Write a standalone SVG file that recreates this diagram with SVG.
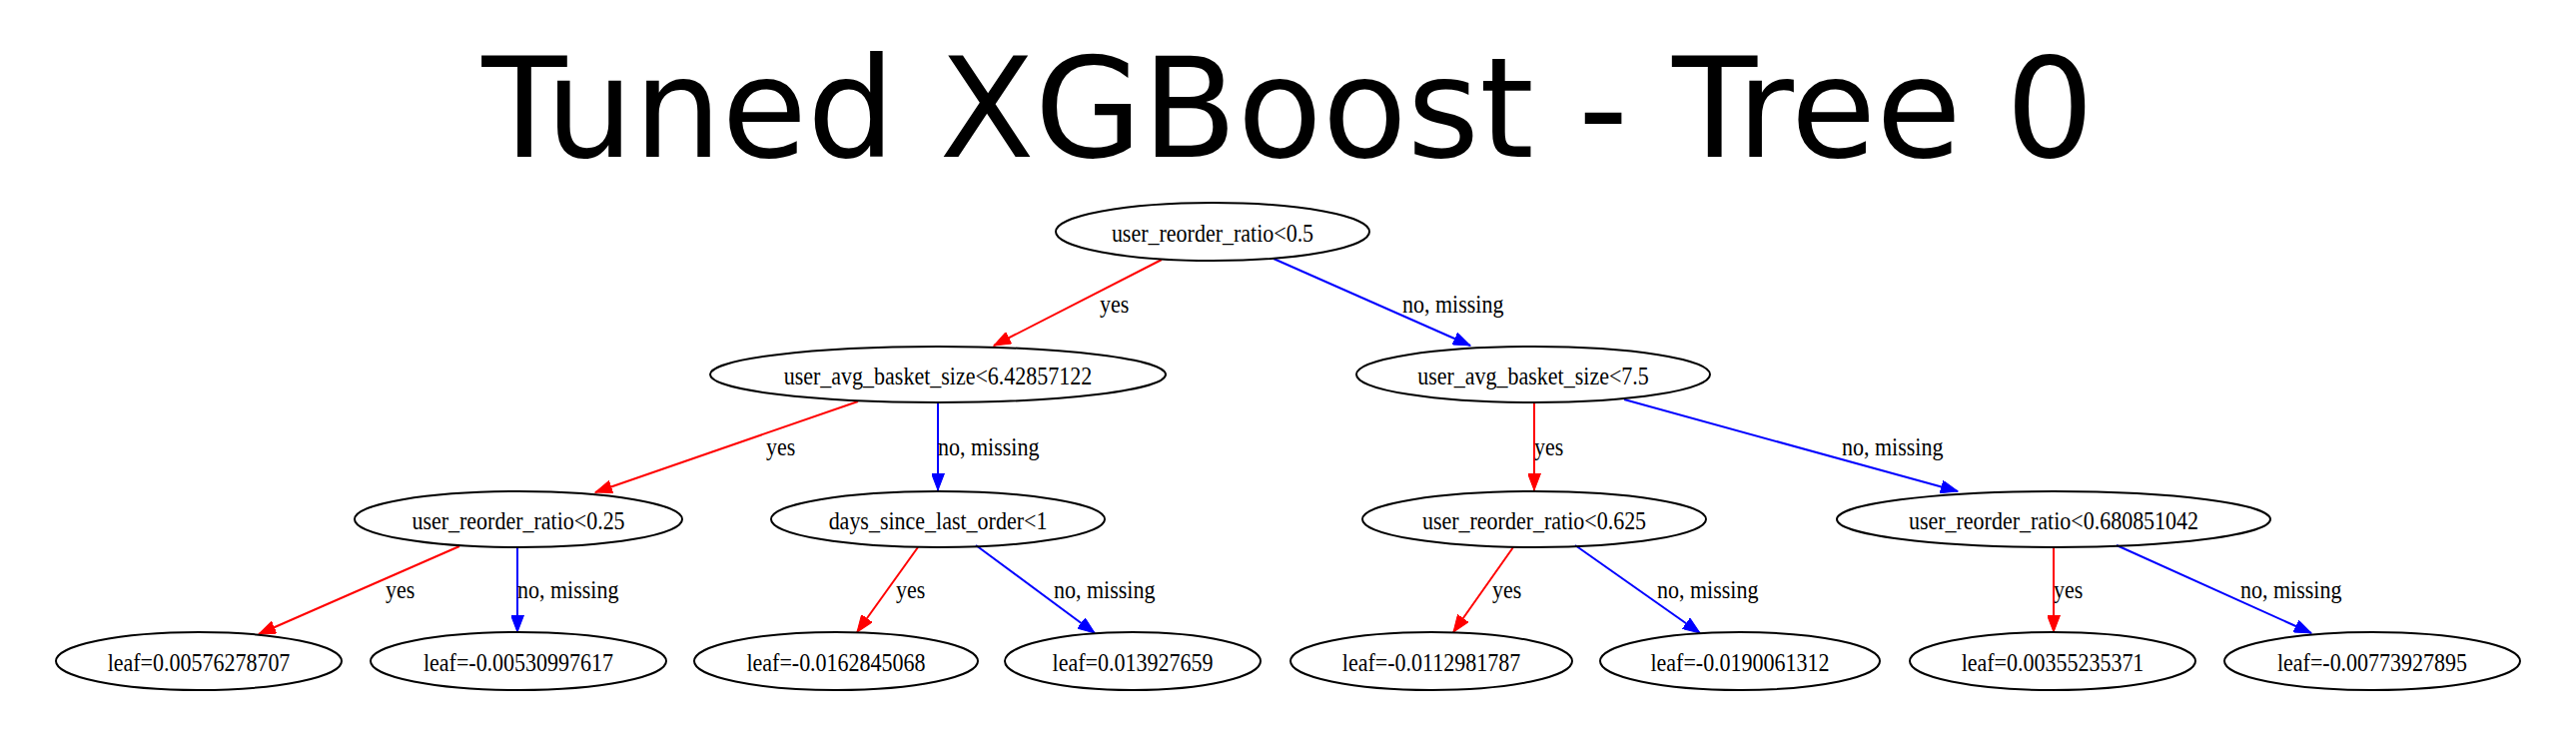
<svg xmlns="http://www.w3.org/2000/svg" width="2579" height="749" viewBox="0 0 2579 749">
<style>
.bg{fill:#ffffff}
.title{font-family:"DejaVu Sans",sans-serif;font-size:139px;fill:#000}
.node ellipse{fill:none;stroke:#000;stroke-width:2}
.node text{font-family:"Liberation Serif","Times New Roman",serif;font-size:24.5px;fill:#000;text-anchor:middle}
.lbl{font-family:"Liberation Serif","Times New Roman",serif;font-size:24.5px;fill:#000}
.yes{stroke:#ff0000;stroke-width:2;fill:none;marker-end:url(#ar)}
.no{stroke:#0000ff;stroke-width:2;fill:none;marker-end:url(#ab)}
</style>
<defs>
<marker id="ar" markerUnits="userSpaceOnUse" markerWidth="18" markerHeight="13" refX="17" refY="6.5" orient="auto"><path d="M0,0 L17,6.5 L0,13 z" fill="#ff0000" stroke="#ff0000" stroke-width="1"/></marker>
<marker id="ab" markerUnits="userSpaceOnUse" markerWidth="18" markerHeight="13" refX="17" refY="6.5" orient="auto"><path d="M0,0 L17,6.5 L0,13 z" fill="#0000ff" stroke="#0000ff" stroke-width="1"/></marker>
</defs>
<rect class="bg" x="0" y="0" width="2579" height="749"/>
<text class="title" x="1289.5" y="157" text-anchor="middle">Tuned XGBoost - Tree 0</text>

<g id="edges">
<line class="yes" x1="1163" y1="260" x2="995" y2="346"/>
<line class="no" x1="1275" y1="259" x2="1472" y2="346"/>
<line class="yes" x1="859" y1="402" x2="596" y2="493"/>
<line class="no" x1="939" y1="403" x2="939" y2="491"/>
<line class="yes" x1="1536" y1="403" x2="1536" y2="491"/>
<line class="no" x1="1626" y1="400" x2="1960" y2="492"/>
<line class="yes" x1="460" y1="547" x2="259" y2="635"/>
<line class="no" x1="518" y1="548" x2="518" y2="633"/>
<line class="yes" x1="919" y1="548" x2="858" y2="633"/>
<line class="no" x1="977" y1="546" x2="1096" y2="634"/>
<line class="yes" x1="1515" y1="548" x2="1455" y2="633"/>
<line class="no" x1="1577" y1="546" x2="1702" y2="634"/>
<line class="yes" x1="2056" y1="548" x2="2056" y2="633"/>
<line class="no" x1="2119" y1="546" x2="2314" y2="634"/>
<text class="lbl" transform="translate(1101,313) scale(0.898,1)">yes</text>
<text class="lbl" transform="translate(1404,313) scale(0.898,1)">no, missing</text>
<text class="lbl" transform="translate(767,456) scale(0.898,1)">yes</text>
<text class="lbl" transform="translate(939,456) scale(0.898,1)">no, missing</text>
<text class="lbl" transform="translate(1536,456) scale(0.898,1)">yes</text>
<text class="lbl" transform="translate(1844,456) scale(0.898,1)">no, missing</text>
<text class="lbl" transform="translate(386,599) scale(0.898,1)">yes</text>
<text class="lbl" transform="translate(518,599) scale(0.898,1)">no, missing</text>
<text class="lbl" transform="translate(897,599) scale(0.898,1)">yes</text>
<text class="lbl" transform="translate(1055,599) scale(0.898,1)">no, missing</text>
<text class="lbl" transform="translate(1494,599) scale(0.898,1)">yes</text>
<text class="lbl" transform="translate(1659,599) scale(0.898,1)">no, missing</text>
<text class="lbl" transform="translate(2056,599) scale(0.898,1)">yes</text>
<text class="lbl" transform="translate(2243,599) scale(0.898,1)">no, missing</text>
</g>

<g id="n0" class="node"><ellipse cx="1214" cy="232" rx="157" ry="29"/><text transform="translate(1214,242) scale(0.898,1)">user_reorder_ratio&lt;0.5</text></g>
<g id="n1" class="node"><ellipse cx="939" cy="375" rx="228" ry="28"/><text transform="translate(939,385) scale(0.898,1)">user_avg_basket_size&lt;6.42857122</text></g>
<g id="n2" class="node"><ellipse cx="1535" cy="375" rx="177" ry="28"/><text transform="translate(1535,385) scale(0.898,1)">user_avg_basket_size&lt;7.5</text></g>
<g id="n3" class="node"><ellipse cx="519" cy="520" rx="164" ry="28"/><text transform="translate(519,530) scale(0.898,1)">user_reorder_ratio&lt;0.25</text></g>
<g id="n4" class="node"><ellipse cx="939" cy="520" rx="167" ry="28"/><text transform="translate(939,530) scale(0.898,1)">days_since_last_order&lt;1</text></g>
<g id="n5" class="node"><ellipse cx="1536" cy="520" rx="172" ry="28"/><text transform="translate(1536,530) scale(0.898,1)">user_reorder_ratio&lt;0.625</text></g>
<g id="n6" class="node"><ellipse cx="2056" cy="520" rx="217" ry="28"/><text transform="translate(2056,530) scale(0.898,1)">user_reorder_ratio&lt;0.680851042</text></g>
<g id="n7" class="node"><ellipse cx="199" cy="662" rx="143" ry="29"/><text transform="translate(199,672) scale(0.898,1)">leaf=0.00576278707</text></g>
<g id="n8" class="node"><ellipse cx="519" cy="662" rx="148" ry="29"/><text transform="translate(519,672) scale(0.898,1)">leaf=-0.00530997617</text></g>
<g id="n9" class="node"><ellipse cx="837" cy="662" rx="142" ry="29"/><text transform="translate(837,672) scale(0.898,1)">leaf=-0.0162845068</text></g>
<g id="n10" class="node"><ellipse cx="1134" cy="662" rx="128" ry="29"/><text transform="translate(1134,672) scale(0.898,1)">leaf=0.013927659</text></g>
<g id="n11" class="node"><ellipse cx="1433" cy="662" rx="141" ry="29"/><text transform="translate(1433,672) scale(0.898,1)">leaf=-0.0112981787</text></g>
<g id="n12" class="node"><ellipse cx="1742" cy="662" rx="140" ry="29"/><text transform="translate(1742,672) scale(0.898,1)">leaf=-0.0190061312</text></g>
<g id="n13" class="node"><ellipse cx="2055" cy="662" rx="143" ry="29"/><text transform="translate(2055,672) scale(0.898,1)">leaf=0.00355235371</text></g>
<g id="n14" class="node"><ellipse cx="2375" cy="662" rx="148" ry="29"/><text transform="translate(2375,672) scale(0.898,1)">leaf=-0.00773927895</text></g>
</svg>
